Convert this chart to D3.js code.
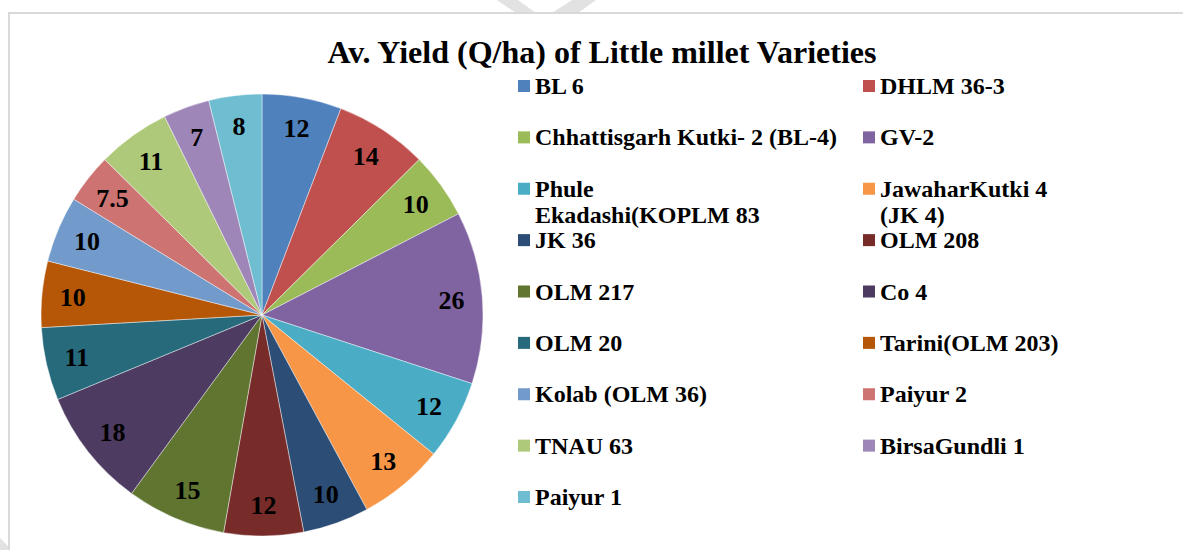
<!DOCTYPE html>
<html>
<head>
<meta charset="utf-8">
<script src="https://cdn.jsdelivr.net/npm/d3@7"></script>
<style>
  body { margin: 0; background: #fff; }
  svg { display: block; font-family: "Liberation Serif", "Times New Roman", serif; }
</style>
</head>
<body>
<svg id="chart" width="1183" height="550"></svg>
<script>
const title = 'Av. Yield (Q/ha) of Little millet Varieties';
const varieties = [
  'BL 6', 'DHLM 36-3', 'Chhattisgarh Kutki- 2 (BL-4)', 'GV-2',
  'Phule Ekadashi(KOPLM 83', 'JawaharKutki 4 (JK 4)', 'JK 36', 'OLM 208',
  'OLM 217', 'Co 4', 'OLM 20', 'Tarini(OLM 203)',
  'Kolab (OLM 36)', 'Paiyur 2', 'TNAU 63', 'BirsaGundli 1', 'Paiyur 1'
];
const yields = [12, 14, 10, 26, 12, 13, 10, 12, 15, 18, 11, 10, 10, 7.5, 11, 7, 8];
const colors = [
  '#4f81bd', '#c0504d', '#9bbb59', '#8064a2', '#4bacc6', '#f79646',
  '#2c4d75', '#772c2a', '#5f7530', '#4d3b62', '#276a7c', '#b65708',
  '#729aca', '#cd7371', '#afc97a', '#9e86b8', '#6fbdd1'
];
// legend entries that wrap onto two lines
const wrapped = {
  'Phule Ekadashi(KOPLM 83': ['Phule', 'Ekadashi(KOPLM 83'],
  'JawaharKutki 4 (JK 4)': ['JawaharKutki 4', '(JK 4)']
};

const svg = d3.select('#chart');

// faint watermark scraps and the chart frame
svg.append('g').attr('fill', '#e2e2e2')
  .selectAll('path')
  .data([
    'M497,0 L518,0 L536,13 L516,13 Z',
    'M552,13 L572,0 L596,0 L578,13 Z',
    'M0,538 L8,546 L8,550 L0,550 Z'
  ])
  .join('path').attr('d', d => d);

svg.append('rect')
  .attr('x', 9).attr('y', 13)
  .attr('width', 1200).attr('height', 600)
  .attr('fill', 'none')
  .attr('stroke', '#d9d9d9')
  .attr('stroke-width', 2);

svg.append('text')
  .attr('x', 602).attr('y', 63)
  .attr('text-anchor', 'middle')
  .attr('font-size', 32)
  .attr('font-weight', 'bold')
  .text(title);

const cx = 262, cy = 315, radius = 221;
const data = varieties.map((name, i) => ({ name, value: yields[i], color: colors[i] }));

const pie = d3.pie().sort(null).value(d => d.value);
const arc = d3.arc().innerRadius(0).outerRadius(radius);
const labelArc = d3.arc().innerRadius(radius * 0.86).outerRadius(radius * 0.86);

const g = svg.append('g').attr('transform', `translate(${cx},${cy})`);
const arcs = pie(data);

g.selectAll('path.slice')
  .data(arcs)
  .join('path')
  .attr('class', 'slice')
  .attr('d', arc)
  .attr('fill', d => d.data.color)
  .attr('stroke', 'rgba(255,255,255,0.55)')
  .attr('stroke-width', 0.8);

g.selectAll('text.lbl')
  .data(arcs)
  .join('text')
  .attr('class', 'lbl')
  .attr('transform', d => `translate(${labelArc.centroid(d)})`)
  .attr('text-anchor', 'middle')
  .attr('dy', '0.35em')
  .attr('font-size', 26)
  .attr('font-weight', 'bold')
  .text(d => d.data.value);

// legend, two columns, row-major
const colX = [518, 863];
const rowY = d3.scaleLinear().domain([0, 8]).range([86, 497]);

const leg = svg.append('g')
  .selectAll('g')
  .data(data)
  .join('g')
  .attr('transform', (d, i) => `translate(${colX[i % 2]},${rowY(Math.floor(i / 2))})`);

leg.append('rect')
  .attr('x', 0).attr('y', -6)
  .attr('width', 12).attr('height', 12)
  .attr('fill', d => d.color);

leg.append('text')
  .attr('x', 17)
  .attr('y', 8)
  .attr('font-size', 24)
  .attr('font-weight', 'bold')
  .each(function(d) {
    const lines = wrapped[d.name] || [d.name];
    d3.select(this).selectAll('tspan')
      .data(lines)
      .join('tspan')
      .attr('x', 17)
      .attr('dy', (l, j) => j === 0 ? 0 : 26)
      .text(l => l);
  });
</script>
</body>
</html>
